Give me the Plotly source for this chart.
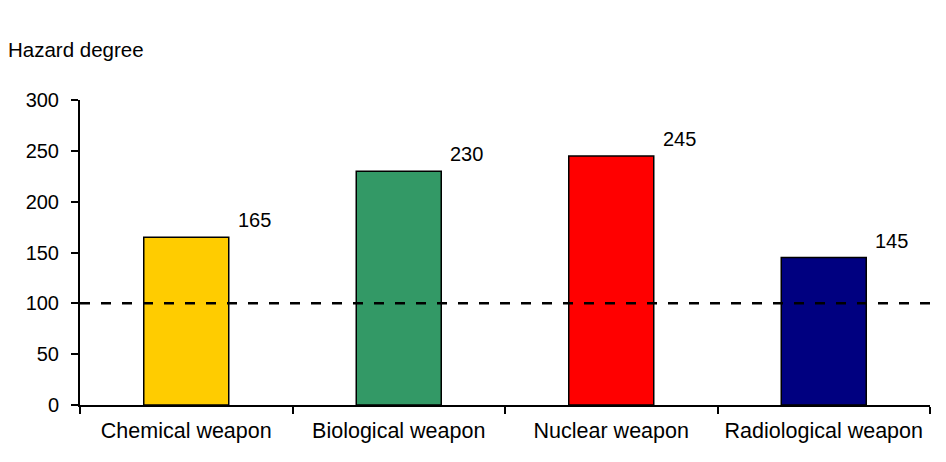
import plotly.graph_objects as go

categories = ["Chemical weapon", "Biological weapon", "Nuclear weapon", "Radiological weapon"]
values = [165, 230, 245, 145]
colors = ["#FFCC00", "#339966", "#FF0000", "#000080"]
threshold = 100
y_ticks = [0, 50, 100, 150, 200, 250, 300]
y_title = "Hazard degree"

FONT = "Liberation Sans, Arial, sans-serif"

fig = go.Figure()
fig.add_trace(go.Bar(
    x=categories, y=values,
    marker=dict(color=colors, line=dict(color="black", width=1.5)),
    width=0.4, showlegend=False, hoverinfo="x+y",
))

for c, v in zip(categories, values):
    fig.add_annotation(x=c, y=v, text=str(v), showarrow=False,
                       xshift=68, yshift=17, xanchor="center", yanchor="middle",
                       font=dict(family=FONT, size=20, color="black"))

fig.add_shape(type="line", xref="paper", x0=0, x1=1, yref="y", y0=threshold, y1=threshold,
              line=dict(color="black", width=2.5, dash="10px,11px"), layer="above")

fig.add_annotation(xref="paper", yref="paper", x=-0.087, y=1.165, text=y_title,
                   showarrow=False, xanchor="left", yanchor="middle",
                   font=dict(family=FONT, size=20.5, color="black"))

fig.update_layout(
    width=946, height=462,
    margin=dict(l=80, r=16, t=100, b=57),
    paper_bgcolor="white", plot_bgcolor="white",
    font=dict(family=FONT, size=20, color="black"),
    bargap=0.6,
)
fig.update_xaxes(
    showline=True, linecolor="black", linewidth=2,
    ticks="outside", tickson="boundaries", ticklen=7, tickcolor="black", tickwidth=1.5,
    ticklabelstandoff=5,
    showgrid=False, tickfont=dict(family=FONT, size=21.5, color="black"),
)
fig.update_yaxes(
    range=[0, 300], tickvals=y_ticks,
    showline=True, linecolor="black", linewidth=2,
    ticks="outside", ticklen=7, tickcolor="black", tickwidth=1.5,
    ticklabelstandoff=8,
    showgrid=False, zeroline=False, tickfont=dict(family=FONT, size=20, color="black"),
)

fig.write_html("out.html", config={"displayModeBar": False},
               post_script="document.body.style.margin='0';")
